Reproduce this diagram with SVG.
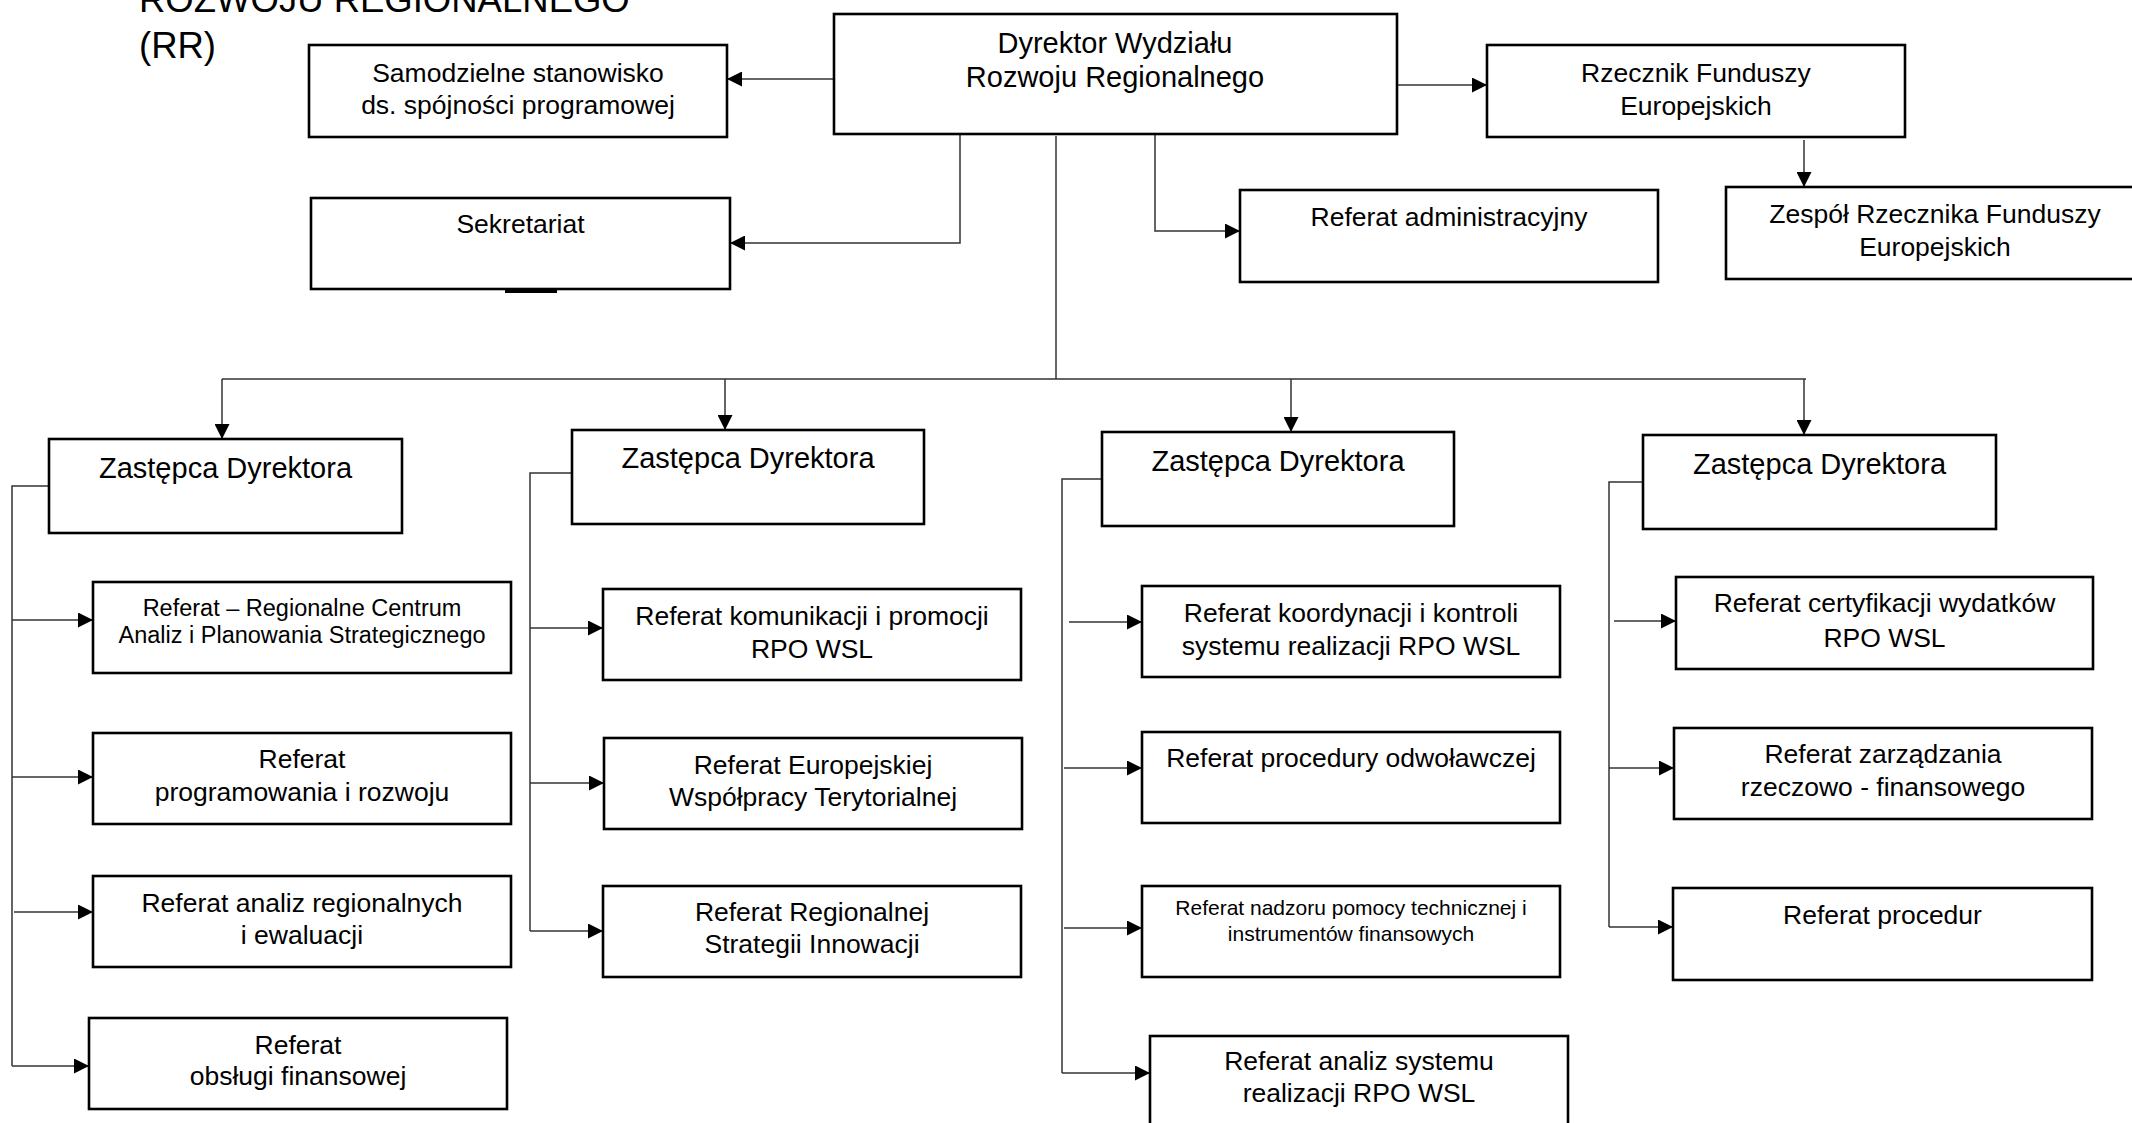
<svg xmlns="http://www.w3.org/2000/svg" width="2132" height="1123" viewBox="0 0 2132 1123">
<style>
.box{fill:#fff;stroke:#000;stroke-width:2.6}
.t{font-family:"Liberation Sans",Arial,sans-serif;font-size:26.5px;fill:#000;text-anchor:middle}
.tz{font-size:29px}
.ts{font-size:23.5px}
.tx{font-size:21px}
.title{font-family:"Liberation Sans",Arial,sans-serif;font-size:36.5px;fill:#000}
.c{fill:none;stroke:#333;stroke-width:1.5}
.ca{fill:none;stroke:#333;stroke-width:1.5;marker-end:url(#ah)}
</style>
<defs>
<marker id="ah" markerUnits="userSpaceOnUse" markerWidth="15" markerHeight="15" viewBox="0 0 15 15" refX="15" refY="7.5" orient="auto">
<path d="M0,0 L15,7.5 L0,15 z" fill="#000"/>
</marker>
</defs>
<rect width="2132" height="1123" fill="#fff"/>
<g id="title">
<text class="title" x="139" y="11.5">ROZWOJU REGIONALNEGO</text>
<text class="title" x="139" y="58">(RR)</text>
</g>
<g id="connectors">
<path class="ca" d="M834,79 H727"/>
<path class="ca" d="M1397,85 H1487"/>
<path class="ca" d="M960,134 V243 H730"/>
<path class="ca" d="M1155,134 V231 H1240"/>
<path class="ca" d="M1804,140 V187"/>
<path class="c" d="M1056,136 V379"/>
<path class="c" d="M222,379 H1806"/>
<path class="ca" d="M222,379 V439"/>
<path class="ca" d="M725,379 V430"/>
<path class="ca" d="M1291,379 V432"/>
<path class="ca" d="M1804,379 V435"/>
<path class="c" d="M49,486 H12 V1066"/>
<path class="ca" d="M12,620 H93"/>
<path class="ca" d="M12,777 H93"/>
<path class="ca" d="M14,912 H93"/>
<path class="ca" d="M12,1066 H89"/>
<path class="c" d="M572,473 H530 V931"/>
<path class="ca" d="M530,628 H603"/>
<path class="ca" d="M530,783 H604"/>
<path class="ca" d="M530,931 H603"/>
<path class="c" d="M1102,479 H1062 V1073"/>
<path class="ca" d="M1069,622 H1142"/>
<path class="ca" d="M1064,768 H1142"/>
<path class="ca" d="M1064,928 H1142"/>
<path class="ca" d="M1062,1073 H1150"/>
<path class="c" d="M1643,482 H1609 V927"/>
<path class="ca" d="M1614,621 H1676"/>
<path class="ca" d="M1609,768 H1674"/>
<path class="ca" d="M1609,927 H1673"/>
</g>
<g id="dyrektor"><rect class="box" x="834" y="14" width="563" height="120"/><text class="t tz" x="1115" y="53">Dyrektor Wydziału</text><text class="t tz" x="1115" y="87">Rozwoju Regionalnego</text></g>
<g id="samodzielne"><rect class="box" x="309" y="45" width="418" height="92"/><text class="t" x="518" y="82">Samodzielne stanowisko</text><text class="t" x="518" y="114">ds. spójności programowej</text></g>
<g id="rzecznik"><rect class="box" x="1487" y="45" width="418" height="92"/><text class="t" x="1696" y="82">Rzecznik Funduszy</text><text class="t" x="1696" y="115">Europejskich</text></g>
<g id="sekretariat"><rect class="box" x="311" y="198" width="419" height="91"/><text class="t" x="520.5" y="233">Sekretariat</text><line x1="505" y1="291.5" x2="557" y2="291.5" stroke="#000" stroke-width="3"/></g>
<g id="referat-administracyjny"><rect class="box" x="1240" y="190" width="418" height="92"/><text class="t" x="1449" y="226">Referat administracyjny</text></g>
<g id="zespol"><rect class="box" x="1726" y="187" width="418" height="92"/><text class="t" x="1935" y="223">Zespół Rzecznika Funduszy</text><text class="t" x="1935" y="256">Europejskich</text></g>
<g id="zastepca1"><rect class="box" x="49" y="439" width="353" height="94"/><text class="t tz" x="225.5" y="478">Zastępca Dyrektora</text></g>
<g id="zastepca2"><rect class="box" x="572" y="430" width="352" height="94"/><text class="t tz" x="748" y="468">Zastępca Dyrektora</text></g>
<g id="zastepca3"><rect class="box" x="1102" y="432" width="352" height="94"/><text class="t tz" x="1278" y="471">Zastępca Dyrektora</text></g>
<g id="zastepca4"><rect class="box" x="1643" y="435" width="353" height="94"/><text class="t tz" x="1819.5" y="474">Zastępca Dyrektora</text></g>
<g id="rcaps"><rect class="box" x="93" y="582" width="418" height="91"/><text class="t ts" x="302" y="616">Referat – Regionalne Centrum</text><text class="t ts" x="302" y="643">Analiz i Planowania Strategicznego</text></g>
<g id="programowania"><rect class="box" x="93" y="733" width="418" height="91"/><text class="t" x="302" y="768">Referat</text><text class="t" x="302" y="801">programowania i rozwoju</text></g>
<g id="analiz-regionalnych"><rect class="box" x="93" y="876" width="418" height="91"/><text class="t" x="302" y="912">Referat analiz regionalnych</text><text class="t" x="302" y="944">i ewaluacji</text></g>
<g id="obslugi"><rect class="box" x="89" y="1018" width="418" height="91"/><text class="t" x="298" y="1054">Referat</text><text class="t" x="298" y="1085">obsługi finansowej</text></g>
<g id="komunikacji"><rect class="box" x="603" y="589" width="418" height="91"/><text class="t" x="812" y="625">Referat komunikacji i promocji</text><text class="t" x="812" y="658">RPO WSL</text></g>
<g id="europejskiej"><rect class="box" x="604" y="738" width="418" height="91"/><text class="t" x="813" y="774">Referat Europejskiej</text><text class="t" x="813" y="806">Współpracy Terytorialnej</text></g>
<g id="ris"><rect class="box" x="603" y="886" width="418" height="91"/><text class="t" x="812" y="921">Referat Regionalnej</text><text class="t" x="812" y="953">Strategii Innowacji</text></g>
<g id="koordynacji"><rect class="box" x="1142" y="586" width="418" height="91"/><text class="t" x="1351" y="622">Referat koordynacji i kontroli</text><text class="t" x="1351" y="655">systemu realizacji RPO WSL</text></g>
<g id="odwolawczej"><rect class="box" x="1142" y="732" width="418" height="91"/><text class="t" x="1351" y="767">Referat procedury odwoławczej</text></g>
<g id="nadzoru"><rect class="box" x="1142" y="886" width="418" height="91"/><text class="t tx" x="1351" y="915">Referat nadzoru pomocy technicznej i</text><text class="t tx" x="1351" y="941">instrumentów finansowych</text></g>
<g id="analiz-systemu"><rect class="box" x="1150" y="1036" width="418" height="91"/><text class="t" x="1359" y="1070">Referat analiz systemu</text><text class="t" x="1359" y="1102">realizacji RPO WSL</text></g>
<g id="certyfikacji"><rect class="box" x="1676" y="577" width="417" height="92"/><text class="t" x="1884.5" y="612">Referat certyfikacji wydatków</text><text class="t" x="1884.5" y="647">RPO WSL</text></g>
<g id="zarzadzania"><rect class="box" x="1674" y="728" width="418" height="91"/><text class="t" x="1883" y="763">Referat zarządzania</text><text class="t" x="1883" y="796">rzeczowo - finansowego</text></g>
<g id="procedur"><rect class="box" x="1673" y="888" width="419" height="92"/><text class="t" x="1882.5" y="924">Referat procedur</text></g>
</svg>
